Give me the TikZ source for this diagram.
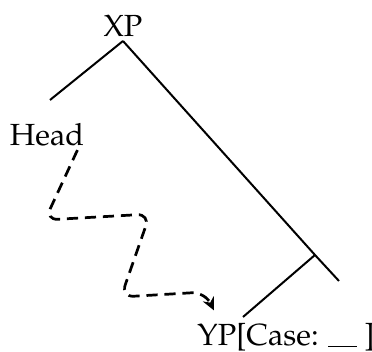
\documentclass[tikz,border=0pt]{standalone}
\usepackage[T1]{fontenc}
\usepackage{mathpazo}
\usepackage{tikz}
\usetikzlibrary{arrows.meta}

\begin{document}
\begin{tikzpicture}[x=0.35pt,y=-0.35pt]
\useasboundingbox (0,0) rectangle (372,352);
\tikzstyle{label}=[inner sep=0pt,anchor=base,font=\fontsize{10.7}{12}\selectfont]
\tikzstyle{branch}=[line width=0.7pt]
\tikzstyle{move}=[line width=0.95pt,dash pattern=on 3.9pt off 2.4pt,rounded corners=4.5pt,-{Stealth[length=4.5pt,width=4.2pt]}]

\node[label] (xp) at (123,37) {XP};
\node[label] (head) at (47,146) {Head};
\node[label] (yp) at (286,346) {YP[Case: \rule[-0.5pt]{10pt}{0.5pt} ]};

\coordinate (top) at (123,41);
\coordinate (left) at (50,100);
\coordinate (mid) at (315,255);
\coordinate (right) at (339,281);
\coordinate (low) at (243,317);

\draw[branch] (top) -- (left);
\draw[branch] (top) -- (mid) -- (right);
\draw[branch] (mid) -- (low);

% movement of the head down to YP
\coordinate (from) at ([xshift=-2.5pt,yshift=-1pt]head.south east);
\coordinate (to) at ([xshift=6pt,yshift=4.5pt]yp.north west);
\draw[move] (from) -- (45,220) -- (150,214) -- (121,297) -- (205,292) -- (to);
\end{tikzpicture}
\end{document}
